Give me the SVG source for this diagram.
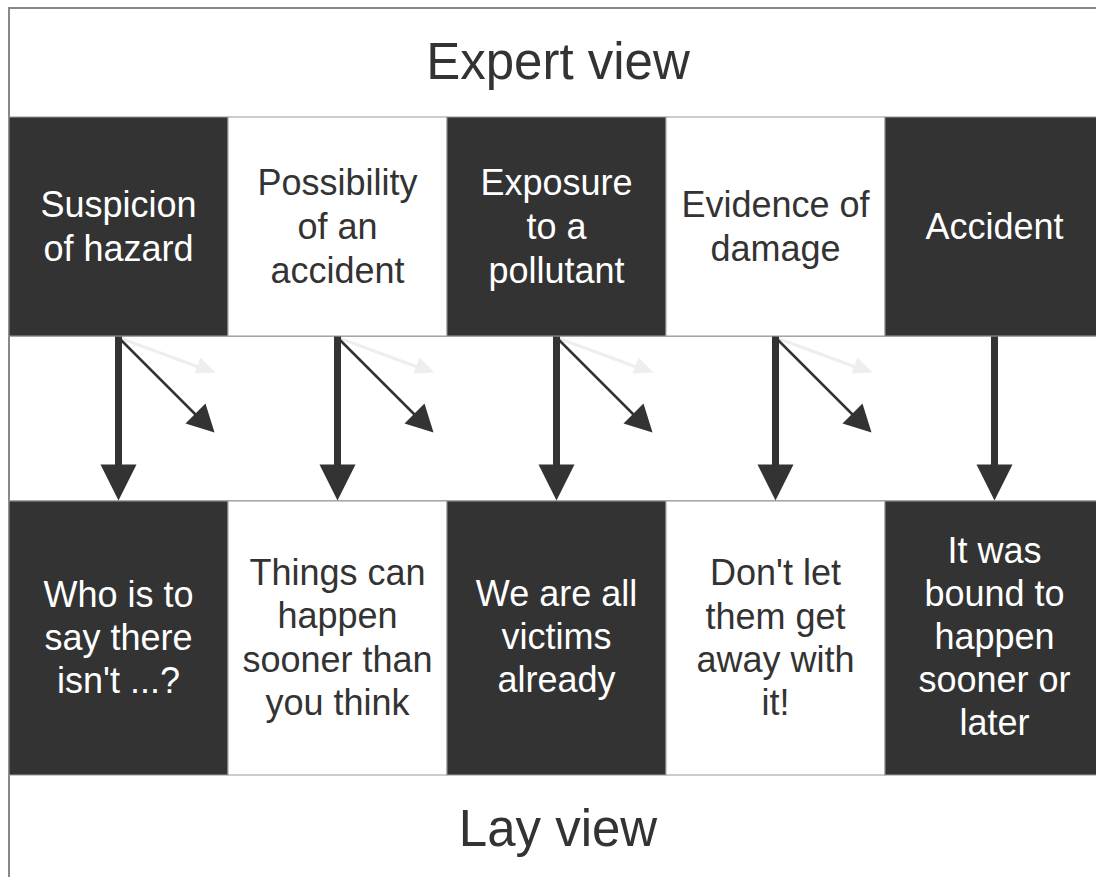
<svg xmlns="http://www.w3.org/2000/svg" width="1096" height="877" viewBox="0 0 1096 877">
<style>
.dark{fill:#333333;stroke:#999999;stroke-width:1}
.light{fill:#ffffff;stroke:#999999;stroke-width:1}
text{font-family:"Liberation Sans",Arial,sans-serif;text-anchor:middle}
.tw{fill:#ffffff;font-size:36px}
.td{fill:#333333;font-size:36px}
.title{fill:#333333;font-size:51px}
.shaft{stroke:#333333;stroke-width:7;fill:none}
.diag{stroke:#333333;stroke-width:2.5;fill:none}
.faint{stroke:#eeeeee;stroke-width:3;fill:none}
.head{fill:#333333}
.fhead{fill:#eeeeee}
</style>
<rect x="0" y="0" width="1096" height="877" fill="#ffffff"/>
<rect x="9" y="8" width="1100" height="880" fill="#ffffff" stroke="#888888" stroke-width="2"/>
<line x1="9" y1="336" x2="1096" y2="336" stroke="#999999" stroke-width="1.5"/>
<line x1="9" y1="501" x2="1096" y2="501" stroke="#999999" stroke-width="1.5"/>
<g id="expert-view"><text class="title" x="558" y="79">Expert view</text></g>
<g id="lay-view"><text class="title" x="558" y="846">Lay view</text></g>

<g id="e1"><rect class="dark" x="9" y="117" width="219" height="219"/><text class="tw" x="118.5" y="217">Suspicion</text><text class="tw" x="118.5" y="261">of hazard</text></g>
<g id="e2"><rect class="light" x="228" y="117" width="219" height="219"/><text class="td" x="337.5" y="195">Possibility</text><text class="td" x="337.5" y="239">of an</text><text class="td" x="337.5" y="283">accident</text></g>
<g id="e3"><rect class="dark" x="447" y="117" width="219" height="219"/><text class="tw" x="556.5" y="195">Exposure</text><text class="tw" x="556.5" y="239">to a</text><text class="tw" x="556.5" y="283">pollutant</text></g>
<g id="e4"><rect class="light" x="666" y="117" width="219" height="219"/><text class="td" x="775.5" y="217">Evidence of</text><text class="td" x="775.5" y="261">damage</text></g>
<g id="e5"><rect class="dark" x="885" y="117" width="219" height="219"/><text class="tw" x="994.5" y="239">Accident</text></g>

<g id="l1"><rect class="dark" x="9" y="501" width="219" height="274"/><text class="tw" x="118.5" y="607">Who is to</text><text class="tw" x="118.5" y="650">say there</text><text class="tw" x="118.5" y="693">isn't ...?</text></g>
<g id="l2"><rect class="light" x="228" y="501" width="219" height="274"/><text class="td" x="337.5" y="585">Things can</text><text class="td" x="337.5" y="628">happen</text><text class="td" x="337.5" y="672">sooner than</text><text class="td" x="337.5" y="715">you think</text></g>
<g id="l3"><rect class="dark" x="447" y="501" width="219" height="274"/><text class="tw" x="556.5" y="606">We are all</text><text class="tw" x="556.5" y="649">victims</text><text class="tw" x="556.5" y="692">already</text></g>
<g id="l4"><rect class="light" x="666" y="501" width="219" height="274"/><text class="td" x="775.5" y="585">Don't let</text><text class="td" x="775.5" y="629">them get</text><text class="td" x="775.5" y="672">away with</text><text class="td" x="775.5" y="715">it!</text></g>
<g id="l5"><rect class="dark" x="885" y="501" width="219" height="274"/><text class="tw" x="994.5" y="563">It was</text><text class="tw" x="994.5" y="606">bound to</text><text class="tw" x="994.5" y="649">happen</text><text class="tw" x="994.5" y="692">sooner or</text><text class="tw" x="994.5" y="735">later</text></g>

<defs>
<g id="arrowset">
<line class="faint" x1="0" y1="1" x2="84" y2="32"/>
<polygon class="fhead" points="97,36 76,37 82,21"/>
<line class="diag" x1="0" y1="1" x2="80" y2="81"/>
<polygon class="head" points="96,96 67,87 87,67"/>
<line class="shaft" x1="0" y1="0" x2="0" y2="130"/>
<polygon class="head" points="-18,128 18,128 0,164"/>
</g>
<g id="downonly">
<line class="shaft" x1="0" y1="0" x2="0" y2="130"/>
<polygon class="head" points="-18,128 18,128 0,164"/>
</g>
</defs>
<g id="connectors">
<use href="#arrowset" x="118.5" y="336.5"/>
<use href="#arrowset" x="337.5" y="336.5"/>
<use href="#arrowset" x="556.5" y="336.5"/>
<use href="#arrowset" x="775.5" y="336.5"/>
<use href="#downonly" x="994.5" y="336.5"/>
</g>
</svg>
